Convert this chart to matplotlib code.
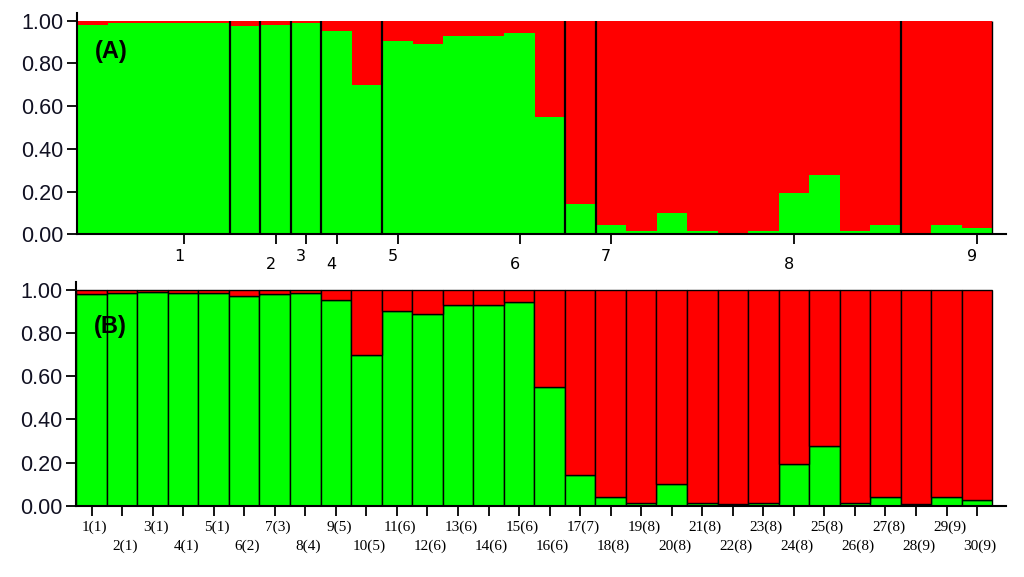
import matplotlib
matplotlib.use("Agg")
import matplotlib.pyplot as plt
import numpy as np

# Individuals (30) and their membership proportion in the green cluster
individuals = ["1(1)", "2(1)", "3(1)", "4(1)", "5(1)", "6(2)", "7(3)", "8(4)", "9(5)", "10(5)",
               "11(6)", "12(6)", "13(6)", "14(6)", "15(6)", "16(6)", "17(7)", "18(8)", "19(8)", "20(8)",
               "21(8)", "22(8)", "23(8)", "24(8)", "25(8)", "26(8)", "27(8)", "28(9)", "29(9)", "30(9)"]
green = [0.980, 0.988, 0.989, 0.988, 0.988, 0.974, 0.981, 0.988, 0.952, 0.700,
         0.903, 0.889, 0.930, 0.930, 0.944, 0.550, 0.142, 0.042, 0.014, 0.099,
         0.014, 0.006, 0.014, 0.192, 0.278, 0.014, 0.042, 0.006, 0.042, 0.028]
# Populations and number of individuals per population
populations = ["1", "2", "3", "4", "5", "6", "7", "8", "9"]
pop_sizes = [5, 1, 1, 1, 2, 6, 1, 10, 3]
yticks = [0.0, 0.2, 0.4, 0.6, 0.8, 1.0]

GREEN = "#00FF00"
RED = "#FF0000"

green = np.array(green)
red = 1 - green
n = len(green)
x = np.arange(n)

fig = plt.figure(figsize=(10.24, 5.77), dpi=100)
axA = fig.add_axes([0.0755, 0.594, 0.907, 0.383])
axB = fig.add_axes([0.0745, 0.1236, 0.908, 0.388])

xmax = 30.45
for ax, top in ((axA, 1.035), (axB, 1.038)):
    ax.set_xlim(0, xmax)
    ax.set_ylim(0, top)
    for s in ("top", "right"):
        ax.spines[s].set_visible(False)
    for s in ("left", "bottom"):
        ax.spines[s].set_linewidth(1.5)
    ax.set_yticks(yticks)
    ax.set_yticklabels([f"{v:.2f}" for v in yticks], fontsize=15.5,
                       family=["Liberation Sans", "DejaVu Sans"], color="#111122")
    ax.tick_params(axis="y", length=7.2, width=1.3, pad=2.8)
    ax.tick_params(axis="x", length=7, width=1.3, labelbottom=False)

# ---- Panel A: bars grouped by population, separators
axA.bar(x, green, width=1.0, align="edge", color=GREEN, linewidth=0)
axA.bar(x, red, width=1.0, bottom=green, align="edge", color=RED, linewidth=0)
bounds = np.cumsum(pop_sizes)
axA.vlines(bounds[:-1], 0, 1, colors="black", linewidth=1.6)
axA.vlines([bounds[-1]], 0, 1, colors="black", linewidth=1.0)
starts = bounds - np.array(pop_sizes)
tpos = starts + np.array(pop_sizes) // 2 + 1.5
axA.set_xticks(tpos)
for i, (p, lab) in enumerate(zip(tpos, populations)):
    dy = -22 if i % 2 == 0 else -30
    axA.annotate(lab, xy=(p, 0), xycoords=("data", "axes fraction"),
                 xytext=(-5, dy), textcoords="offset pixels",
                 ha="center", va="center", fontsize=11.5,
                 family=["DejaVu Sans"])
axA.text(0.019, 0.825, "(A)", transform=axA.transAxes, fontsize=17,
         fontweight="bold", family=["Liberation Sans", "DejaVu Sans"], va="center")

# ---- Panel B: individual bars with outlines
axB.bar(x, green, width=1.0, align="edge", color=GREEN, edgecolor="black", linewidth=1.0)
axB.bar(x, red, width=1.0, bottom=green, align="edge", color=RED, edgecolor="black", linewidth=1.0)
axB.set_xticks(x + 0.5)
for i, lab in enumerate(individuals):
    dy = -22 if i % 2 == 0 else -41
    axB.annotate(lab, xy=(i + 0.5, 0), xycoords=("data", "axes fraction"),
                 xytext=(3, dy), textcoords="offset pixels",
                 ha="center", va="center", fontsize=11,
                 family=["Liberation Serif", "DejaVu Serif"])
axB.text(0.019, 0.80, "(B)", transform=axB.transAxes, fontsize=17,
         fontweight="bold", family=["Liberation Sans", "DejaVu Sans"], va="center")

fig.savefig("out.png", dpi=100)
